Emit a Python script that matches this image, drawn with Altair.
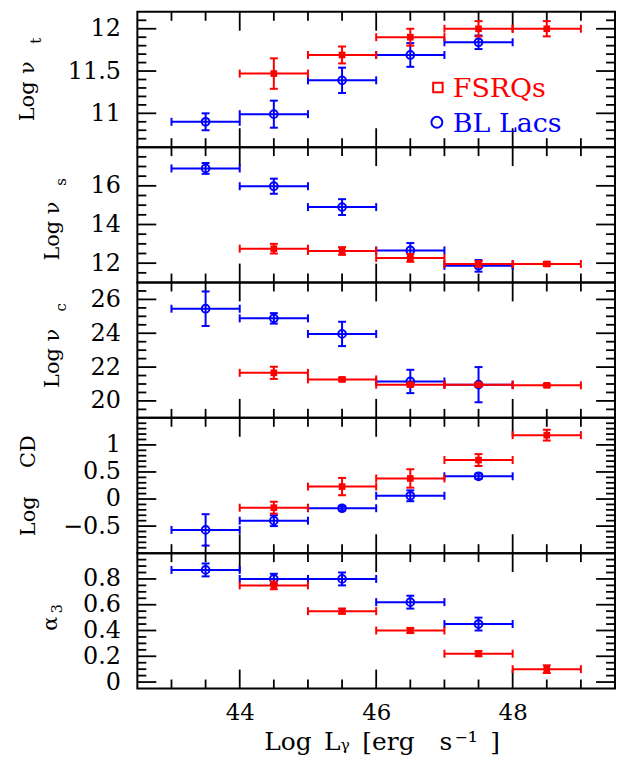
import altair as alt
import pandas as pd
import numpy as np

FONT = "DejaVu Serif"
RED = "#ff0000"
BLUE = "#0000ff"

# ---------------- data ----------------
x_bll = [43.5, 44.5, 45.5, 46.5, 47.5]
x_fsrq = [44.5, 45.5, 46.5, 47.5, 48.5]
bin_half = 0.5

# Log nu_t
nut_bll = [10.90, 10.99, 11.39, 11.69, 11.84]
nut_bll_err = [0.10, 0.16, 0.15, 0.14, 0.08]
nut_fsrq = [11.47, 11.69, 11.90, 12.00, 12.00]
nut_fsrq_err = [0.18, 0.10, 0.10, 0.09, 0.09]

# Log nu_s
nus_bll = [16.90, 15.98, 14.90, 12.66, 11.86]
nus_bll_err = [0.28, 0.39, 0.41, 0.38, 0.30]
nus_fsrq = [12.75, 12.63, 12.27, 11.96, 11.96]
nus_fsrq_err = [0.25, 0.20, 0.20, 0.15, 0.10]

# Log nu_c
nuc_bll = [25.45, 24.88, 23.96, 21.15, 20.96]
nuc_bll_err = [1.02, 0.31, 0.72, 0.69, 1.04]
nuc_fsrq = [21.66, 21.27, 20.96, 20.96, 20.92]
nuc_fsrq_err = [0.36, 0.10, 0.10, 0.10, 0.08]

# Log CD
cd_bll = [-0.57, -0.40, -0.17, 0.06, 0.42]
cd_bll_err = [0.29, 0.10, 0.04, 0.10, 0.05]
cd_fsrq = [-0.16, 0.23, 0.38, 0.72, 1.18]
cd_fsrq_err = [0.11, 0.16, 0.17, 0.11, 0.10]

# alpha_3
a3_bll = [0.87, 0.80, 0.80, 0.62, 0.45]
a3_bll_err = [0.05, 0.04, 0.05, 0.05, 0.05]
a3_fsrq = [0.75, 0.55, 0.40, 0.22, 0.10]
a3_fsrq_err = [0.03, 0.02, 0.02, 0.02, 0.03]

# axes
XDOM = [42.5, 49.5]
X_MAJOR = [44, 46, 48]
X_MINOR = [43.0, 43.5, 44.5, 45.0, 45.5, 46.5, 47.0, 47.5, 48.5, 49.0]
X_LABELS = [44, 46, 48]
X_TITLE = "Log\u2002Lᵧ\u2002[erg\u2003s\u200a⁻¹\u2002]"

W, H = 480, 136


def make_df(yb, eb, yf, ef):
    rows = []
    for x, y, e in zip(x_bll, yb, eb):
        rows.append(dict(cls="BL", x=x, xlo=x - bin_half, xhi=x + bin_half, y=y, ylo=y - e, yhi=y + e))
    for x, y, e in zip(x_fsrq, yf, ef):
        rows.append(dict(cls="FSRQ", x=x, xlo=x - bin_half, xhi=x + bin_half, y=y, ylo=y - e, yhi=y + e))
    return pd.DataFrame(rows)


def minor_list(lo, hi, step, majors):
    vals = np.round(np.arange(lo, hi + step / 2, step), 6)
    return [float(v) for v in vals if not any(abs(v - m) < 1e-6 for m in majors)]


ONE = pd.DataFrame({"a": [1]})


def text_layer(txt, x, y, size, angle=270, align="center", color="black"):
    kw = dict(text=txt, font=FONT, fontSize=size, color=color, align=align, baseline="alphabetic")
    if angle:
        kw["angle"] = angle
    return alt.Chart(ONE).mark_text(**kw).encode(x=alt.value(x), y=alt.value(y))


def panel(df, ydom, ymajor, yminor, titles, show_x=False, extra=None):
    xscale = alt.Scale(domain=XDOM, nice=False, zero=False)
    yscale = alt.Scale(domain=ydom, nice=False, zero=False)
    if show_x:
        xaxis = alt.Axis(values=X_LABELS, ticks=False, domain=False, grid=False,
                         labelFont=FONT, labelFontSize=23, labelColor="black", labelPadding=13,
                         title=X_TITLE, titleFont=FONT, titleFontSize=25,
                         titleFontWeight="normal", titleColor="black", titleY=61,
                         titleX=127, titleAlign="left", titleBaseline="alphabetic")
    else:
        xaxis = None
    yaxis = alt.Axis(values=ymajor, ticks=False, domain=False, grid=False, format="~g",
                     labelFont=FONT, labelFontSize=24, labelColor="black", labelPadding=17,
                     title=None)

    def X(f):
        return alt.X(f, type="quantitative", scale=xscale, axis=xaxis)

    def Y(f):
        return alt.Y(f, type="quantitative", scale=yscale, axis=yaxis)

    layers = []
    # frame ticks
    tick_kw = dict(color="black", strokeWidth=1.8)
    for vals, L in [(X_MAJOR, 19), (X_MINOR, 9)]:
        d = pd.DataFrame({"v": vals})
        layers.append(alt.Chart(d).mark_rule(**tick_kw).encode(x=X("v"), y=alt.value(0), y2=alt.value(L)))
        layers.append(alt.Chart(d).mark_rule(**tick_kw).encode(x=X("v"), y=alt.value(H), y2=alt.value(H - L)))
    for vals, L in [(ymajor, 19), (yminor, 9)]:
        d = pd.DataFrame({"v": vals})
        layers.append(alt.Chart(d).mark_rule(**tick_kw).encode(y=Y("v"), x=alt.value(0), x2=alt.value(L)))
        layers.append(alt.Chart(d).mark_rule(**tick_kw).encode(y=Y("v"), x=alt.value(W), x2=alt.value(W - L)))

    # data, BL Lacs first then FSRQs on top
    for cls, color, shape, filled, size in [("BL", BLUE, "circle", False, 60), ("FSRQ", RED, "square", True, 45)]:
        base = alt.Chart(df).transform_filter(alt.datum.cls == cls)
        layers += [
            base.mark_rule(color=color, strokeWidth=2).encode(x=X("xlo"), x2="xhi:Q", y=Y("y")),
            base.mark_rule(color=color, strokeWidth=2).encode(x=X("x"), y=Y("ylo"), y2="yhi:Q"),
            base.mark_tick(color=color, orient="vertical", size=8, thickness=2, opacity=1).encode(x=X("xlo"), y=Y("y")),
            base.mark_tick(color=color, orient="vertical", size=8, thickness=2, opacity=1).encode(x=X("xhi"), y=Y("y")),
            base.mark_tick(color=color, orient="horizontal", size=8, thickness=2, opacity=1).encode(x=X("x"), y=Y("ylo")),
            base.mark_tick(color=color, orient="horizontal", size=8, thickness=2, opacity=1).encode(x=X("x"), y=Y("yhi")),
            base.mark_point(shape=shape, filled=filled, size=size, color=color, strokeWidth=2, opacity=1).encode(x=X("x"), y=Y("y")),
        ]

    layers += titles
    if extra:
        layers += extra
    return alt.layer(*layers).properties(width=W, height=H)


df1 = make_df(nut_bll, nut_bll_err, nut_fsrq, nut_fsrq_err)
df2 = make_df(nus_bll, nus_bll_err, nus_fsrq, nus_fsrq_err)
df3 = make_df(nuc_bll, nuc_bll_err, nuc_fsrq, nuc_fsrq_err)
df4 = make_df(cd_bll, cd_bll_err, cd_fsrq, cd_fsrq_err)
df5 = make_df(a3_bll, a3_bll_err, a3_fsrq, a3_fsrq_err)

Y1_MAJOR = [11, 11.5, 12]
Y2_MAJOR = [12, 14, 16]
Y3_MAJOR = [20, 22, 24, 26]
Y4_MAJOR = [-0.5, 0, 0.5, 1]
Y5_MAJOR = [0, 0.2, 0.4, 0.6, 0.8]

legend = [
    alt.Chart(ONE).mark_point(shape="square", filled=False, size=90, color=RED, strokeWidth=2, opacity=1)
       .encode(x=alt.value(302), y=alt.value(76)),
    text_layer("FSRQs", 317, 86, 27, angle=0, align="left", color=RED),
    alt.Chart(ONE).mark_point(shape="circle", filled=False, size=120, color=BLUE, strokeWidth=2, opacity=1)
       .encode(x=alt.value(301), y=alt.value(111)),
    text_layer("BL Lacs", 317, 121, 27, angle=0, align="left", color=BLUE),
]

p1 = panel(df1, [10.6, 12.2], Y1_MAJOR, minor_list(10.7, 12.1, 0.1, Y1_MAJOR),
           [text_layer("Log", -104, 90, 21), text_layer("ν", -104, 56, 21), text_layer("t", -97, 29, 15)],
           extra=legend)
p2 = panel(df2, [11, 18], Y2_MAJOR, minor_list(11.5, 17.5, 0.5, Y2_MAJOR),
           [text_layer("Log", -79, 94, 21), text_layer("ν", -79, 61, 21), text_layer("s", -72, 35, 15)])
p3 = panel(df3, [19, 27], Y3_MAJOR, minor_list(19.5, 26.5, 0.5, Y3_MAJOR),
           [text_layer("Log", -79, 86, 21), text_layer("ν", -79, 53, 21), text_layer("c", -72, 25, 15)])
p4 = panel(df4, [-1, 1.5], Y4_MAJOR, minor_list(-0.9, 1.4, 0.1, Y4_MAJOR),
           [text_layer("Log", -103, 99, 21), text_layer("CD", -103, 34, 21)])
p5 = panel(df5, [-0.05, 1.0], Y5_MAJOR, minor_list(0.05, 0.95, 0.05, Y5_MAJOR),
           [text_layer("α", -81, 71, 21), text_layer("3", -76, 56, 15)], show_x=True)

chart = alt.vconcat(p1, p2, p3, p4, p5, spacing=0, bounds="flush").properties(
    padding={"left": 8, "top": 0, "right": 0, "bottom": 2}
).configure_view(stroke="black", strokeWidth=2)

chart.save("out.html", embed_options={"renderer": "svg", "actions": False})
